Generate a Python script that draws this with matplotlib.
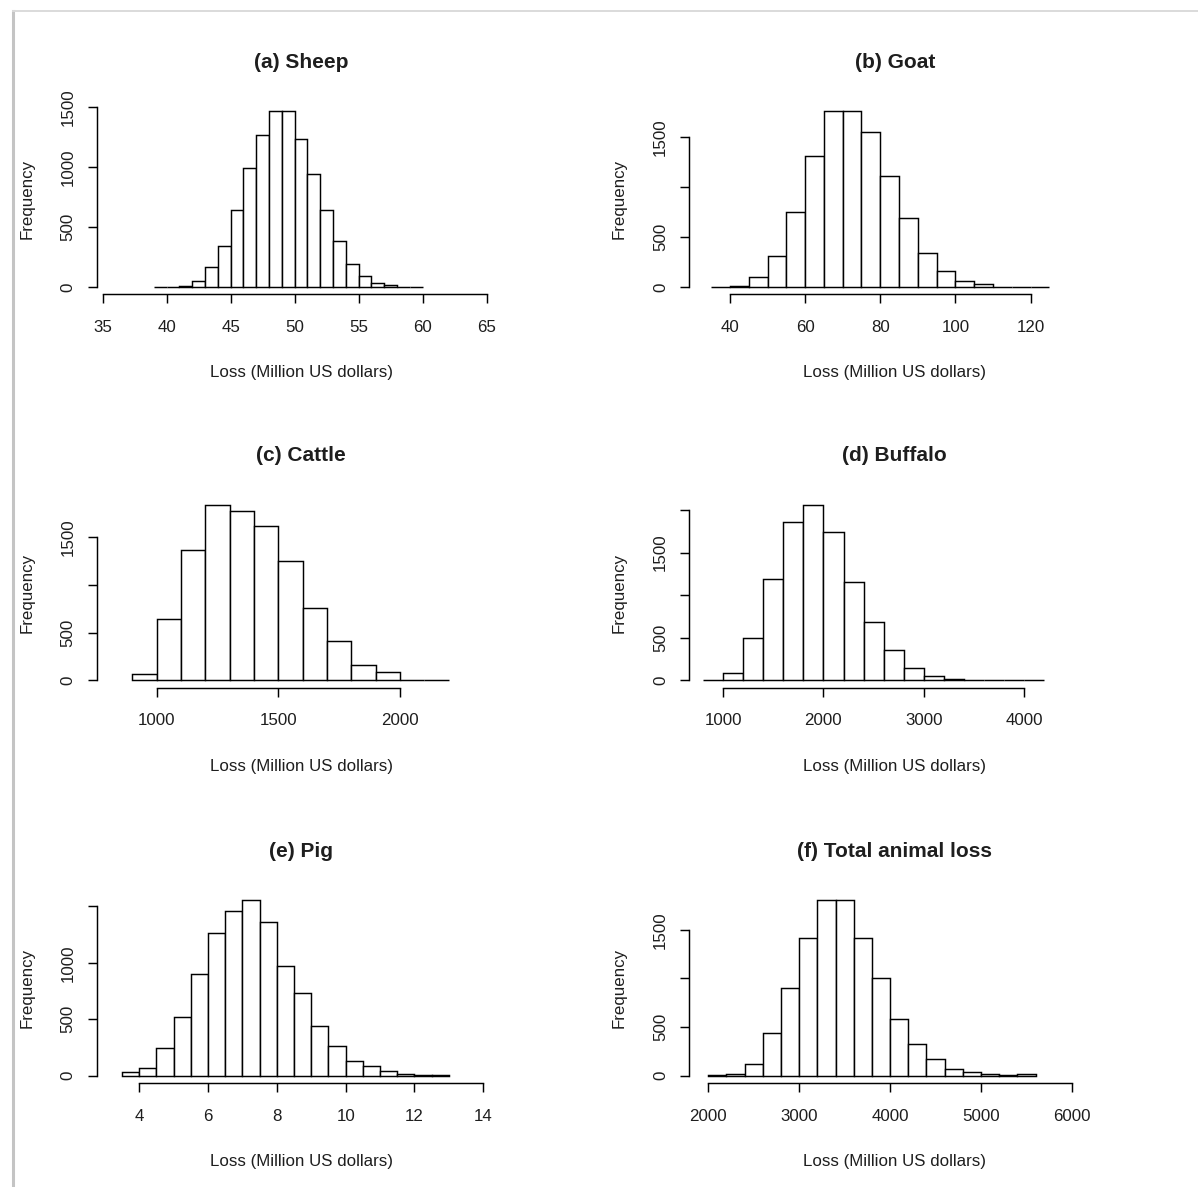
import numpy as np
import matplotlib
matplotlib.use("Agg")
import matplotlib.pyplot as plt
from matplotlib.lines import Line2D

plt.rcParams['font.family'] = ['Liberation Sans', 'DejaVu Sans']
TXT = '#1e1e1e'
plt.rcParams['text.color'] = TXT
plt.rcParams['xtick.labelcolor'] = TXT
plt.rcParams['ytick.labelcolor'] = TXT
plt.rcParams['axes.labelcolor'] = TXT

# ---------------- data ----------------
titles = ["(a) Sheep", "(b) Goat", "(c) Cattle", "(d) Buffalo", "(e) Pig", "(f) Total animal loss"]

sheep_start, sheep_width = 39, 1
sheep_counts = [1, 0, 5, 53, 163, 343, 640, 992, 1267, 1469, 1469, 1239, 941, 640, 382, 194, 93, 31, 14, 2, 1]

goat_start, goat_width = 35, 5
goat_counts = [0, 10, 98, 313, 753, 1305, 1759, 1759, 1551, 1110, 686, 343, 161, 64, 34, 2, 0, 0]

cattle_start, cattle_width = 900, 100
cattle_counts = [70, 642, 1367, 1842, 1779, 1622, 1249, 760, 408, 167, 84, 10, 8]

buffalo_start, buffalo_width = 800, 200
buffalo_counts = [0, 90, 494, 1195, 1857, 2064, 1747, 1159, 685, 360, 149, 55, 20, 3, 1, 0, 1]

pig_start, pig_width = 3.5, 0.5
pig_counts = [30, 68, 243, 518, 899, 1263, 1462, 1559, 1361, 973, 731, 444, 260, 127, 86, 41, 12, 8, 6]

total_start, total_width = 2000, 200
total_counts = [2, 20, 123, 435, 904, 1418, 1808, 1808, 1418, 1000, 586, 322, 168, 72, 38, 17, 3, 15]

xticks_list = [
    [35, 40, 45, 50, 55, 60, 65],
    [40, 60, 80, 100, 120],
    [1000, 1500, 2000],
    [1000, 2000, 3000, 4000],
    [4, 6, 8, 10, 12, 14],
    [2000, 3000, 4000, 5000, 6000],
]
yticks_list = [
    [0, 500, 1000, 1500],
    [0, 500, 1000, 1500],
    [0, 500, 1000, 1500],
    [0, 500, 1000, 1500, 2000],
    [0, 500, 1000, 1500],
    [0, 500, 1000, 1500],
]
ylabels_list = [
    ["0", "500", "1000", "1500"],
    ["0", "500", "", "1500"],
    ["0", "500", "", "1500"],
    ["0", "500", "", "1500", ""],
    ["0", "500", "1000", ""],
    ["0", "500", "", "1500"],
]
xlims = [(34.52, 66.5), (29.17, 138.5), (752.6, 2435), (663, 4757), (2.756, 14.66), (1790, 6311)]

panels = [
    (sheep_start, sheep_width, sheep_counts),
    (goat_start, goat_width, goat_counts),
    (cattle_start, cattle_width, cattle_counts),
    (buffalo_start, buffalo_width, buffalo_counts),
    (pig_start, pig_width, pig_counts),
    (total_start, total_width, total_counts),
]

# ---------------- layout ----------------
W, H = 1198, 1187
fig = plt.figure(figsize=(W / 100, H / 100), dpi=100)
fig.patch.set_facecolor('white')

col_left = [96.5, 689.2]
col_width = [409.4, 411.0]
row_bottom = [294.0, 687.5, 1082.7]
ax_h = 190.0

FS = 12.2
for i, (start, width, counts) in enumerate(panels):
    r, c = divmod(i, 2)
    rect = [col_left[c] / W, 1 - row_bottom[r] / H, col_width[c] / W, ax_h / H]
    ax = fig.add_axes(rect)
    counts = np.asarray(counts)
    lefts = start + width * np.arange(len(counts))
    ax.bar(lefts, counts, width=width, align='edge', facecolor='white',
           edgecolor='black', linewidth=1.05)
    ymax = counts.max()
    ax.set_ylim(-0.04 * ymax, 1.04 * ymax)
    ax.set_xlim(*xlims[i])

    for s in ['top', 'right']:
        ax.spines[s].set_visible(False)
    for s in ['left', 'bottom']:
        ax.spines[s].set_linewidth(1.05)
    xt = xticks_list[i]
    yt = yticks_list[i]
    ax.spines['bottom'].set_bounds(xt[0], xt[-1])
    ax.spines['left'].set_bounds(yt[0], yt[-1])
    ax.set_xticks(xt)
    ax.set_xticklabels([str(v) for v in xt], fontsize=FS)
    ax.set_yticks(yt)
    ax.set_yticklabels(ylabels_list[i], fontsize=FS, rotation=90, va='center', ha='center')
    ax.tick_params(axis='x', length=6.7, width=1.05, pad=12.0)
    ax.tick_params(axis='y', length=6.7, width=1.05, pad=14.0)

    ax.set_title(titles[i], fontsize=15, fontweight='bold', pad=26)
    ax.set_xlabel("Loss (Million US dollars)", fontsize=FS)
    ax.xaxis.set_label_coords(0.5, -79.0 / ax_h)
    ax.xaxis.label.set_verticalalignment('center')
    ax.set_ylabel("Frequency", fontsize=FS)
    ax.yaxis.set_label_coords(-69.8 / col_width[c], 0.5)
    ax.yaxis.label.set_verticalalignment('center')

# page border decoration
fig.add_artist(Line2D([12.5 / W, 12.5 / W], [0, 1 - 11 / H], color='#c4c4c4', linewidth=2.2))
fig.add_artist(Line2D([12.5 / W, 1], [1 - 11 / H, 1 - 11 / H], color='#dadada', linewidth=1.4))

fig.savefig("out.png", dpi=100, facecolor='white')
